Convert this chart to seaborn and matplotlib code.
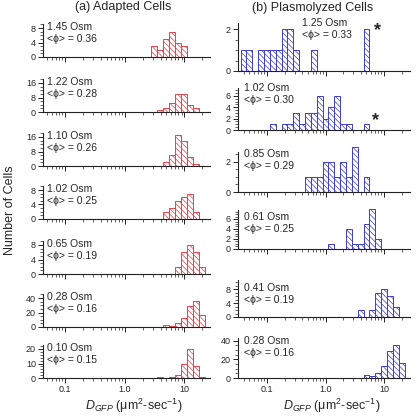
import numpy as np
import pandas as pd
import matplotlib
matplotlib.use("Agg")
import matplotlib.pyplot as plt
from matplotlib.ticker import LogLocator, NullFormatter, FixedLocator, AutoMinorLocator, FuncFormatter
import seaborn as sns

sns.set_style("ticks")
plt.rcParams["font.family"] = ["Liberation Sans", "DejaVu Sans"]
plt.rcParams["mathtext.fontset"] = "custom"
plt.rcParams["mathtext.rm"] = "Liberation Sans"
plt.rcParams["mathtext.it"] = "Liberation Sans:italic"
plt.rcParams["hatch.linewidth"] = 0.5

# ==============================
# Data (bins are 0.1 decade wide, first value = log10 of first bin centre)
# ==============================

adapted_osm = ["1.45", "1.22", "1.10", "1.02", "0.65", "0.28", "0.10"]
adapted_phi = ["0.36", "0.28", "0.26", "0.25", "0.19", "0.16", "0.15"]
adapted_first_bin = [0.5, 0.6, 0.7, 0.7, 0.9, 0.7, 0.6]
adapted_counts = [
    [3, 2, 5, 7, 4, 3],
    [1, 2, 5, 10, 10, 4, 2],
    [2, 6, 17, 14, 5, 1],
    [2, 3, 5, 6, 7, 2],
    [2, 6, 8, 6, 2],
    [3, 2, 5, 13, 29, 36, 16],
    [1, 0, 1, 2, 10, 20, 8, 1],
]
adapted_yticks = [[0, 4, 8], [0, 8, 16], [0, 8, 16], [0, 4, 8], [0, 4, 8], [0, 20, 40], [0, 10, 20]]

plasmo_osm = ["1.25", "1.02", "0.85", "0.61", "0.41", "0.28"]
plasmo_phi = ["0.33", "0.30", "0.29", "0.25", "0.19", "0.16"]
plasmo_first_bin = [-1.4, -0.9, -0.3, 0.1, 0.6, 0.7]
plasmo_counts = [
    [1, 1, 0, 1, 1, 1, 1, 2, 2, 1, 0, 0, 1, 0, 0, 0, 0, 0, 0, 0, 0, 2],
    [1, 0, 1, 1, 3, 1, 3, 3, 6, 2, 4, 6, 1, 1, 0, 0, 1],
    [1, 1, 1, 2, 2, 1, 2, 1, 3, 0, 1],
    [1, 0, 0, 4, 1, 1, 5, 8, 2],
    [2, 0, 2, 7, 8, 6, 3],
    [3, 2, 5, 13, 29, 36, 16],
]
plasmo_yticks = [[0, 2], [0, 2, 4, 6], [0, 2], [0, 2, 4, 6], [0, 4, 8], [0, 20, 40]]

x_ticks = [0.1, 1, 10]
x_ticklabels = ["0.1", "1.0", "10"]

# ==============================
# Layout (pixels of the 417 x 417 picture)
# ==============================

W = 417.0
RED = "#e8404a"
BLUE = "#3c3cd0"
HATCH = "\\" * 6

left_base = [57, 112, 166, 219, 274, 327, 378]
left_height = 33
left_x = (43, 210)
left_xlim = (0.043, 27)

right_base = [71, 130, 192, 249, 317, 378]
right_top = [23, 88, 152, 210, 280, 338]
right_ylim = [2.29, 7.4, 2.65, 7.8, 10.7, 43]
right_x = (238, 410)
right_xlim = (0.032, 27.7)
right_text_off = [48, 42, 38, 32, 29, 37]

fig = plt.figure(figsize=(4.17, 4.17), dpi=100)


def fx(px):
    return px / W


def fy(py):
    return 1 - py / W


def draw_panel(ax, first, counts, color, yticks, ytop, xlim, bottom_row):
    centers = first + 0.1 * np.arange(len(counts))
    edges = [round(c - 0.05, 2) for c in centers] + [round(centers[-1] + 0.05, 2)]
    df = pd.DataFrame({"D": 10 ** centers, "n": counts})
    sns.histplot(data=df, x="D", weights="n", bins=edges, log_scale=True,
                 ax=ax, facecolor="white", edgecolor=color, hatch=HATCH,
                 linewidth=0.7)
    for p in list(ax.patches):
        if p.get_height() == 0:
            p.remove()
        else:
            p.set_clip_on(False)
    ax.set_xlim(*xlim)
    ax.set_ylim(0, ytop)
    ax.set_xlabel("")
    ax.set_ylabel("")
    sns.despine(ax=ax)
    for s in ["left", "bottom"]:
        ax.spines[s].set_linewidth(0.8)
        ax.spines[s].set_color("#222222")
    ax.xaxis.set_major_locator(FixedLocator(x_ticks))
    ax.xaxis.set_minor_locator(LogLocator(base=10, subs=np.arange(2, 10)))
    ax.xaxis.set_minor_formatter(NullFormatter())
    if bottom_row:
        ax.set_xticklabels(x_ticklabels)
    else:
        ax.xaxis.set_major_formatter(NullFormatter())
    ax.yaxis.set_major_locator(FixedLocator(yticks))
    ax.yaxis.set_major_formatter(FuncFormatter(lambda v, p: "%d" % v))
    ax.yaxis.set_minor_locator(AutoMinorLocator())
    ax.tick_params(which="major", direction="out", length=3.5, width=0.7,
                   labelsize=6.5, pad=1.5, color="#222222")
    ax.tick_params(which="minor", direction="out", length=2, width=0.5, color="#222222")
    ax.patch.set_alpha(0)


# (a) Adapted cells
for i in range(len(adapted_counts)):
    b = left_base[i]
    ax = fig.add_axes([fx(left_x[0]), fy(b), fx(left_x[1] - left_x[0]), left_height / W])
    ytop = adapted_yticks[i][-1] * left_height / 29.0
    draw_panel(ax, adapted_first_bin[i], adapted_counts[i], RED, adapted_yticks[i],
               ytop, left_xlim, i == len(adapted_counts) - 1)
    fig.text(fx(47), fy(b - 30), adapted_osm[i] + " Osm", fontsize=7.5, va="center", ha="left")
    fig.text(fx(47), fy(b - 18), "<ϕ> = " + adapted_phi[i], fontsize=7.5, va="center", ha="left")

# (b) Plasmolyzed cells
for i in range(len(plasmo_counts)):
    b = right_base[i]
    h = b - right_top[i]
    ax = fig.add_axes([fx(right_x[0]), fy(b), fx(right_x[1] - right_x[0]), h / W])
    draw_panel(ax, plasmo_first_bin[i], plasmo_counts[i], BLUE, plasmo_yticks[i],
               right_ylim[i], right_xlim, i == len(plasmo_counts) - 1)
    tx = 302 if i == 0 else 244
    off = right_text_off[i]
    fig.text(fx(tx), fy(b - off), plasmo_osm[i] + " Osm", fontsize=7.5, va="center", ha="left")
    fig.text(fx(tx), fy(b - off + 12), "<ϕ> = " + plasmo_phi[i], fontsize=7.5, va="center", ha="left")

# stars
fig.text(fx(377), fy(31), "*", fontsize=13, fontweight="bold", ha="center", va="center")
fig.text(fx(375), fy(121), "*", fontsize=13, fontweight="bold", ha="center", va="center")

# titles and labels
fig.text(fx(123), fy(7), "(a) Adapted Cells", fontsize=9, ha="center", va="center")
fig.text(fx(313), fy(8), "(b) Plasmolyzed Cells", fontsize=9, ha="center", va="center")
fig.text(fx(10), fy(210), "Number of Cells", fontsize=9, rotation=90, ha="center", va="center")
xlab = r"$D_{GFP}$ (μm$^{2}$-sec$^{-1}$)"
fig.text(fx(134), fy(406), xlab, fontsize=9, ha="center", va="center")
fig.text(fx(332), fy(406), xlab, fontsize=9, ha="center", va="center")

fig.savefig("out.png", dpi=100)
